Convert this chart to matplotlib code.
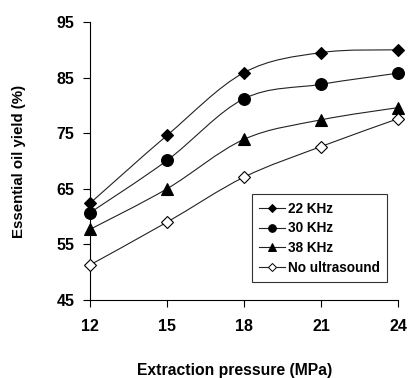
import numpy as np
import matplotlib
matplotlib.use("Agg")
from matplotlib import pyplot as plt
from matplotlib.path import Path
from matplotlib.patches import PathPatch

plt.rcParams['font.family'] = ['Liberation Sans', 'DejaVu Sans']
plt.rcParams['font.weight'] = 'bold'

pressure = [12, 15, 18, 21, 24]
khz22 = [62.4, 74.6, 85.9, 89.5, 90.0]
khz30 = [60.7, 70.1, 81.2, 83.8, 85.8]
khz38 = [57.7, 65.0, 73.9, 77.4, 79.6]
no_us = [51.3, 59.0, 67.1, 72.6, 77.6]
labels = ['22 KHz', '30 KHz', '38 KHz', 'No ultrasound']

def smooth_path(xs, ys):
    # catmull-rom style bezier through the points (like excel smoothed lines)
    p = np.column_stack([xs, ys]).astype(float)
    n = len(p)
    verts = [p[0]]
    codes = [Path.MOVETO]
    for i in range(n - 1):
        p0 = p[max(i - 1, 0)]
        p1 = p[i]
        p2 = p[i + 1]
        p3 = p[min(i + 2, n - 1)]
        c1 = p1 + (p2 - p0) / 6
        c2 = p2 - (p3 - p1) / 6
        verts += [c1, c2, p2]
        codes += [Path.CURVE4] * 3
    return Path(verts, codes)

fig = plt.figure(figsize=(4.12, 3.78), dpi=100)
ax = fig.add_axes([90/412, 1 - 300/378, 308/412, 278/378])

series = [khz22, khz30, khz38, no_us]
styles = [dict(marker='D', ms=6.5, mfc='black'),
          dict(marker='o', ms=8.5, mfc='black'),
          dict(marker='^', ms=8, mfc='black'),
          dict(marker='D', ms=6, mfc='white')]

handles = []
for ys, st, lab in zip(series, styles, labels):
    ax.add_patch(PathPatch(smooth_path(pressure, ys), fill=False, lw=0.8,
                           ec='#222222', clip_on=False))
    ax.plot(pressure, ys, ls='none', marker=st['marker'], ms=st['ms'],
            mfc=st['mfc'], mec='black', mew=0.8, clip_on=False, zorder=3)
    h, = ax.plot([], [], color='#222222', lw=0.8, marker=st['marker'],
                 ms=st['ms'] * 0.65, mfc=st['mfc'], mec='black', mew=0.7,
                 label=lab)
    handles.append(h)

ax.set_xlim(12, 24)
ax.set_ylim(45, 95)
ax.set_xticks(pressure)
ax.set_yticks([45, 55, 65, 75, 85, 95])
ax.spines['top'].set_visible(False)
ax.spines['right'].set_visible(False)
for s in ['left', 'bottom']:
    ax.spines[s].set_linewidth(0.8)
ax.tick_params(axis='y', direction='out', length=5, width=0.8, pad=6, labelsize=11.5)
ax.tick_params(axis='x', direction='out', length=5, width=0.8, pad=9, labelsize=11.5)

ax.set_xlabel('Extraction pressure (MPa)', fontsize=11.3, fontweight='bold')
ax.xaxis.set_label_coords(0.47, -0.228)
ax.set_ylabel('Essential oil yield (%)', fontsize=10.8, fontweight='bold', va='center')
ax.yaxis.set_label_coords(-0.23, 0.5)

leg = ax.legend(handles=handles, loc='upper left', bbox_to_anchor=(0.526, 0.381),
                frameon=True, fancybox=False, fontsize=9.8, handlelength=1.9,
                handletextpad=0.2, labelspacing=0.42, borderpad=0.55,
                borderaxespad=0)
leg.get_frame().set_edgecolor('black')
leg.get_frame().set_linewidth(0.8)

fig.savefig('out.png', dpi=100)
